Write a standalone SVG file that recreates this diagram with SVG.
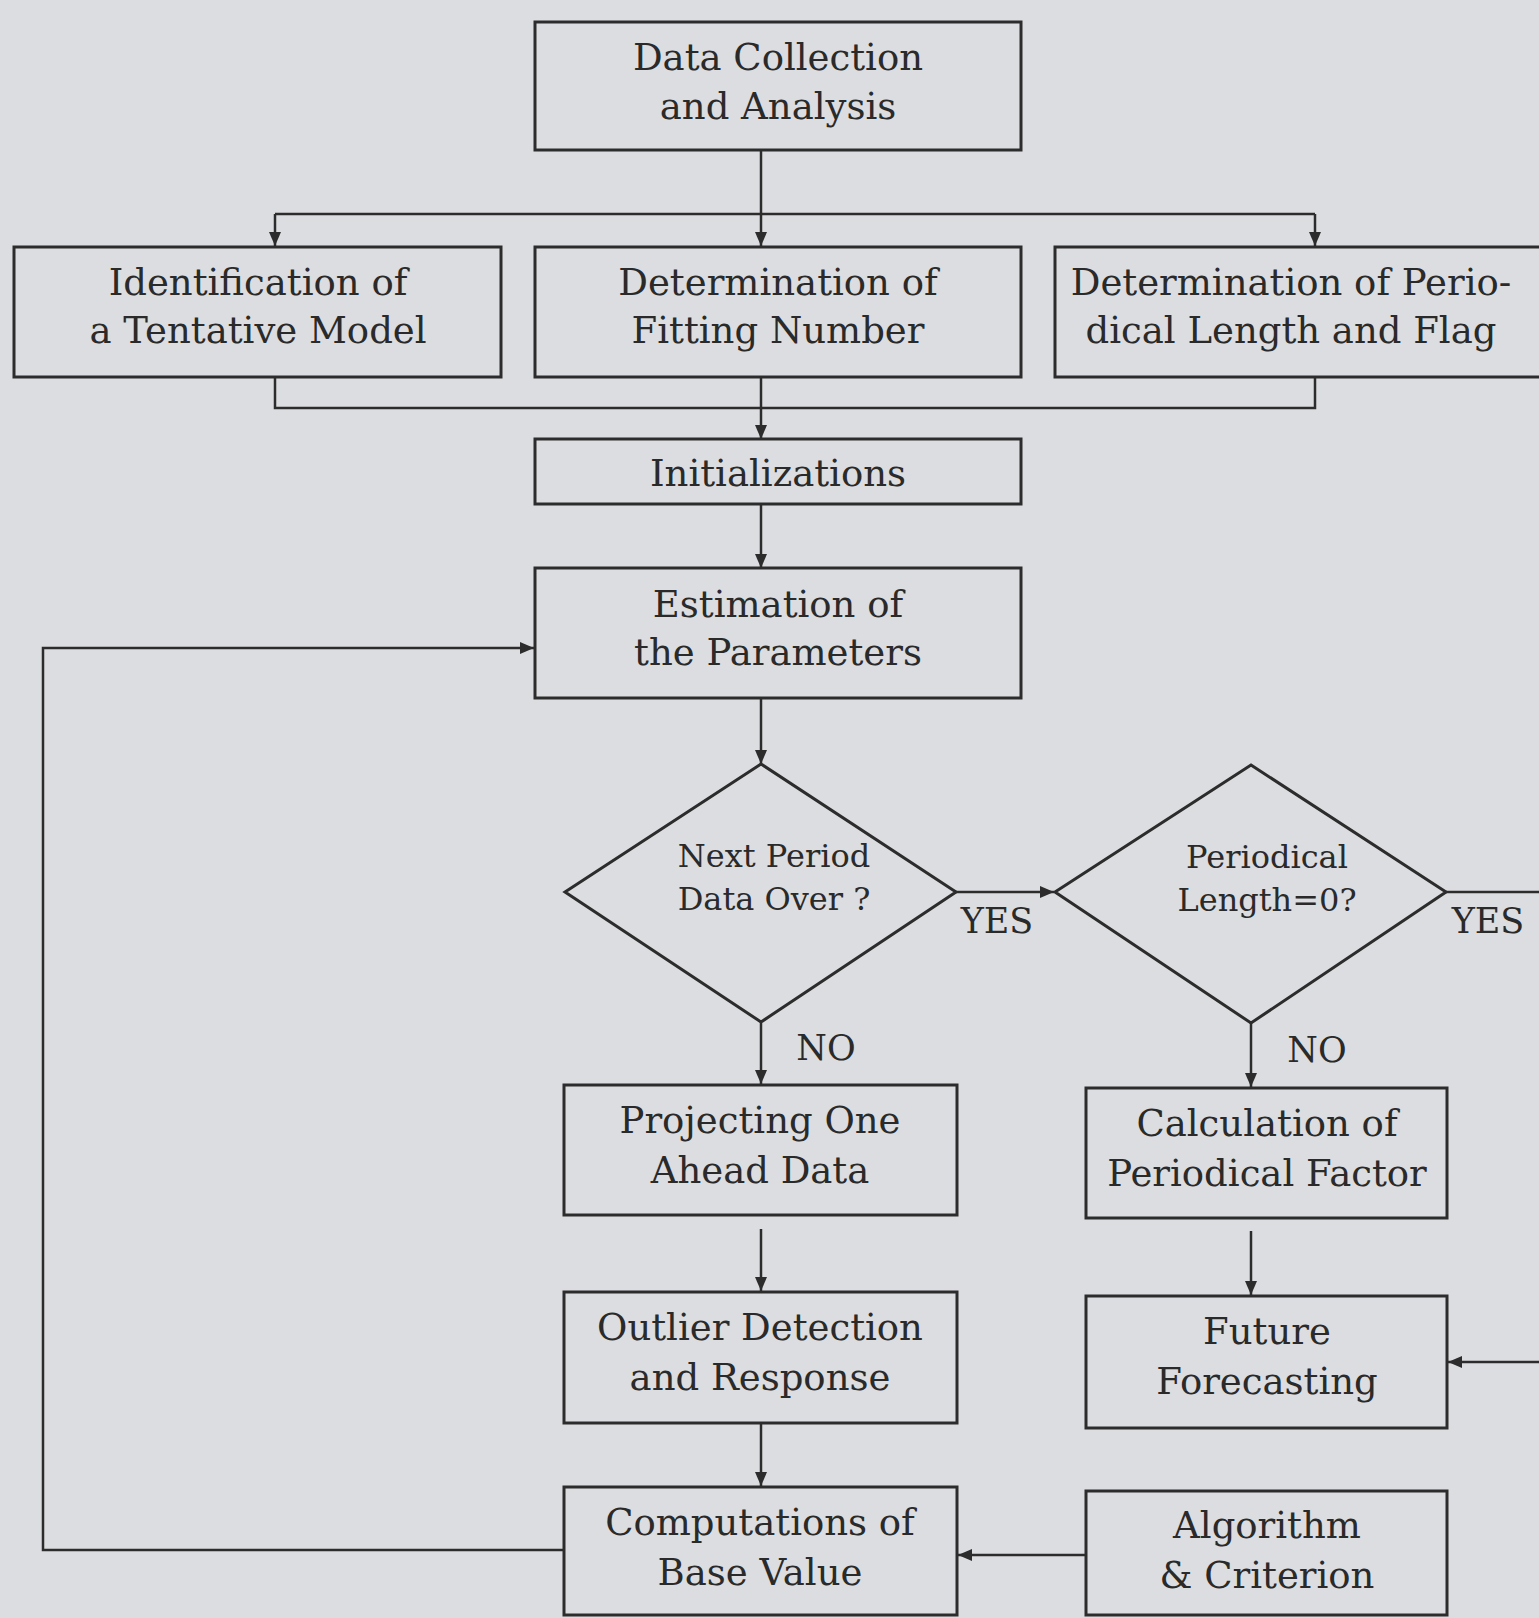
<svg xmlns="http://www.w3.org/2000/svg" width="1539" height="1618" viewBox="0 0 1539 1618">
<defs>
<style>
.box{fill:#dcdde0;stroke:#2c2c2c;stroke-width:3}
.dia{fill:#dcdde0;stroke:#2c2c2c;stroke-width:3}
.t{font-family:"DejaVu Serif","Liberation Serif",serif;font-size:37px;fill:#2a2a2a;text-anchor:middle}
.td{font-family:"DejaVu Serif","Liberation Serif",serif;font-size:32px;fill:#2a2a2a;text-anchor:middle}
.lbl{font-family:"DejaVu Serif","Liberation Serif",serif;font-size:35px;fill:#2a2a2a;text-anchor:middle}
.c{fill:none;stroke:#2c2c2c;stroke-width:2.5}
</style>
<marker id="ah" markerUnits="userSpaceOnUse" markerWidth="15" markerHeight="12" refX="14" refY="6" orient="auto">
<path d="M0,0 L14,6 L0,12 z" fill="#2c2c2c"/>
</marker>
</defs>
<rect x="0" y="0" width="1539" height="1618" fill="#dcdde0"/>

<g id="connectors">
<path class="c" d="M761,150 V214"/>
<path class="c" d="M275,214 H1315"/>
<path class="c" d="M275,214 V246" marker-end="url(#ah)"/>
<path class="c" d="M761,214 V246" marker-end="url(#ah)"/>
<path class="c" d="M1315,214 V246" marker-end="url(#ah)"/>
<path class="c" d="M275,377 V408 H1315 V377"/>
<path class="c" d="M761,377 V439" marker-end="url(#ah)"/>
<path class="c" d="M761,504 V568" marker-end="url(#ah)"/>
<path class="c" d="M761,698 V764" marker-end="url(#ah)"/>
<path class="c" d="M956,892 H1054" marker-end="url(#ah)"/>
<path class="c" d="M1446,892 H1560 V1362 H1448" marker-end="url(#ah)"/>
<path class="c" d="M761,1022 V1084" marker-end="url(#ah)"/>
<path class="c" d="M1251,1023 V1087" marker-end="url(#ah)"/>
<path class="c" d="M761,1229 V1291" marker-end="url(#ah)"/>
<path class="c" d="M1251,1231 V1295" marker-end="url(#ah)"/>
<path class="c" d="M761,1423 V1486" marker-end="url(#ah)"/>
<path class="c" d="M1086,1555 H958" marker-end="url(#ah)"/>
<path class="c" d="M564,1550 H43 V648 H534" marker-end="url(#ah)"/>
</g>

<g id="n_data_collection">
<rect class="box" x="535" y="22" width="486" height="128"/>
<text class="t" x="778" y="70">Data Collection</text>
<text class="t" x="778" y="119">and Analysis</text>
</g>
<g id="n_identification">
<rect class="box" x="14" y="247" width="487" height="130"/>
<text class="t" x="258" y="295">Identification of</text>
<text class="t" x="258" y="343">a Tentative Model</text>
</g>
<g id="n_fitting">
<rect class="box" x="535" y="247" width="486" height="130"/>
<text class="t" x="778" y="295">Determination of</text>
<text class="t" x="778" y="343">Fitting Number</text>
</g>
<g id="n_periodical_length">
<rect class="box" x="1055" y="247" width="500" height="130"/>
<text class="t" x="1291" y="295">Determination of Perio-</text>
<text class="t" x="1291" y="343">dical Length and Flag</text>
</g>
<g id="n_init">
<rect class="box" x="535" y="439" width="486" height="65"/>
<text class="t" x="778" y="486">Initializations</text>
</g>
<g id="n_estimation">
<rect class="box" x="535" y="568" width="486" height="130"/>
<text class="t" x="778" y="617">Estimation of</text>
<text class="t" x="778" y="665">the Parameters</text>
</g>
<g id="n_next_period">
<polygon class="dia" points="761,764 956,892 761,1022 565,892"/>
<text class="td" x="774" y="867">Next Period</text>
<text class="td" x="774" y="910">Data Over ?</text>
</g>
<g id="n_periodical_zero">
<polygon class="dia" points="1251,765 1446,892 1251,1023 1055,892"/>
<text class="td" x="1267" y="868">Periodical</text>
<text class="td" x="1267" y="911">Length=0?</text>
</g>
<g id="labels">
<text class="lbl" x="997" y="933">YES</text>
<text class="lbl" x="1488" y="933">YES</text>
<text class="lbl" x="826" y="1060">NO</text>
<text class="lbl" x="1317" y="1062">NO</text>
</g>
<g id="n_projecting">
<rect class="box" x="564" y="1085" width="393" height="130"/>
<text class="t" x="760" y="1133">Projecting One</text>
<text class="t" x="760" y="1183">Ahead Data</text>
</g>
<g id="n_calculation">
<rect class="box" x="1086" y="1088" width="361" height="130"/>
<text class="t" x="1267" y="1136">Calculation of</text>
<text class="t" x="1267" y="1186">Periodical Factor</text>
</g>
<g id="n_outlier">
<rect class="box" x="564" y="1292" width="393" height="131"/>
<text class="t" x="760" y="1340">Outlier Detection</text>
<text class="t" x="760" y="1390">and Response</text>
</g>
<g id="n_future">
<rect class="box" x="1086" y="1296" width="361" height="132"/>
<text class="t" x="1267" y="1344">Future</text>
<text class="t" x="1267" y="1394">Forecasting</text>
</g>
<g id="n_computations">
<rect class="box" x="564" y="1487" width="393" height="128"/>
<text class="t" x="760" y="1535">Computations of</text>
<text class="t" x="760" y="1585">Base Value</text>
</g>
<g id="n_algorithm">
<rect class="box" x="1086" y="1491" width="361" height="124"/>
<text class="t" x="1267" y="1538">Algorithm</text>
<text class="t" x="1267" y="1588">&amp; Criterion</text>
</g>
</svg>
